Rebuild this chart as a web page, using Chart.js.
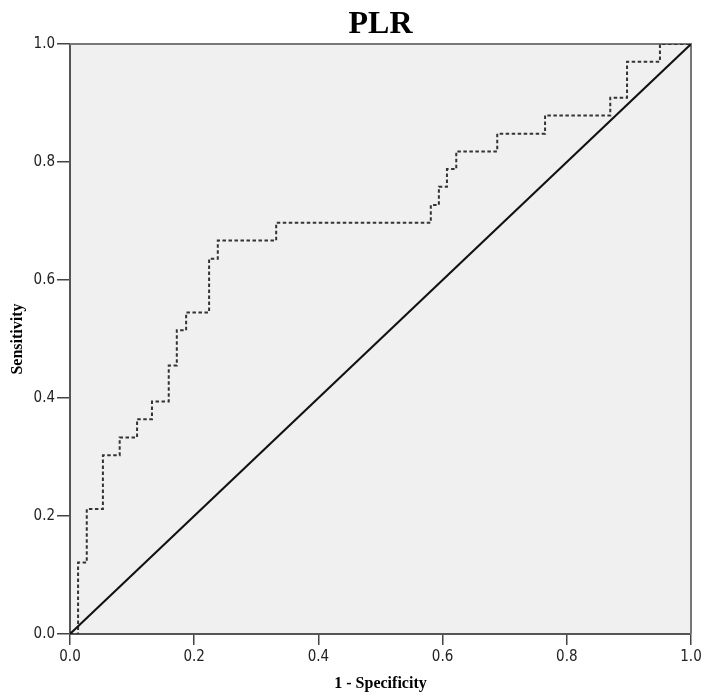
<!DOCTYPE html>
<html lang="en">
<head>
    <meta charset="UTF-8">
    <title>PLR ROC</title>
    <script src="https://cdn.jsdelivr.net/npm/chart.js"></script>
    <style>
        body {
            margin: 0;
            background: #ffffff;
        }
        #wrap {
            width: 706px;
            height: 698px;
        }
    </style>
</head>
<body>
    <div id="wrap">
        <canvas id="rocChart" width="706" height="698"></canvas>
    </div>

    <script>
    // ROC curve points (1 - specificity, sensitivity), corners of the step curve
    const fpr = [0, 0.013, 0.027, 0.053, 0.080, 0.108, 0.132, 0.159, 0.172, 0.187, 0.224, 0.238,
                 0.332, 0.581, 0.594, 0.607, 0.622, 0.688, 0.765, 0.870, 0.897, 0.950, 1.0];
    const sensitivity = [0, 0.121, 0.212, 0.303, 0.333, 0.364, 0.394, 0.455, 0.515, 0.545, 0.636, 0.667,
                         0.697, 0.727, 0.758, 0.788, 0.818, 0.848, 0.879, 0.909, 0.970, 1.0, 1.0];

    // reference diagonal
    const refX = [0, 1];
    const refY = [0, 1];

    const tickValues = [0, 0.2, 0.4, 0.6, 0.8, 1.0];
    const chartTitle = "PLR";

    const toPoints = (xs, ys) => xs.map((x, i) => ({ x: x, y: ys[i] }));

    // grey plot background, top/right frame and the title
    const framePlugin = {
        id: "frame",
        beforeDraw(chart) {
            const a = chart.chartArea;
            const ctx = chart.ctx;
            ctx.save();
            ctx.fillStyle = "#f0f0f0";
            ctx.fillRect(a.left, a.top, a.right - a.left, a.bottom - a.top);
            ctx.restore();
        },
        beforeDatasetsDraw(chart) {
            const a = chart.chartArea;
            const ctx = chart.ctx;
            ctx.save();
            ctx.strokeStyle = "#777";
            ctx.lineWidth = 2;
            ctx.beginPath();
            ctx.moveTo(a.left, a.top);
            ctx.lineTo(a.right, a.top);
            ctx.lineTo(a.right, a.bottom);
            ctx.stroke();
            ctx.restore();
        },
        afterDraw(chart) {
            const a = chart.chartArea;
            const ctx = chart.ctx;
            ctx.save();
            ctx.fillStyle = "#000";
            ctx.font = "bold 32px 'Liberation Serif', serif";
            ctx.textAlign = "center";
            ctx.textBaseline = "alphabetic";
            ctx.fillText(chartTitle, (a.left + a.right) / 2, 33);
            ctx.restore();
        }
    };

    const tickFont = { family: "'DejaVu Sans Condensed', 'DejaVu Sans', sans-serif", size: 15 };
    const titleFont = { family: "'Liberation Serif', serif", size: 16, weight: "bold" };

    const ctx = document.getElementById("rocChart").getContext("2d");
    new Chart(ctx, {
        type: "scatter",
        data: {
            datasets: [
                {
                    data: toPoints(refX, refY),
                    showLine: true,
                    borderColor: "#111",
                    borderWidth: 2,
                    pointRadius: 0
                },
                {
                    data: toPoints(fpr, sensitivity),
                    showLine: true,
                    stepped: "before",
                    borderColor: "#333",
                    borderWidth: 2,
                    borderDash: [3.5, 2.5],
                    pointRadius: 0
                }
            ]
        },
        plugins: [framePlugin],
        options: {
            responsive: false,
            animation: false,
            layout: { padding: { top: 44, right: 15, left: 0, bottom: 0 } },
            plugins: {
                legend: { display: false },
                tooltip: { enabled: false },
                title: { display: false }
            },
            scales: {
                x: {
                    type: "linear",
                    min: 0,
                    max: 1,
                    afterBuildTicks: s => { s.ticks = tickValues.map(v => ({ value: v })); },
                    afterFit: s => { s.height = 64; },
                    ticks: {
                        color: "#222",
                        font: tickFont,
                        padding: 3,
                        maxRotation: 0,
                        callback: v => v.toFixed(1)
                    },
                    grid: {
                        drawOnChartArea: false,
                        tickLength: 11,
                        color: "#444",
                        lineWidth: 1.5
                    },
                    border: { color: "#555", width: 2 },
                    title: {
                        display: true,
                        text: "1 - Specificity",
                        color: "#000",
                        font: titleFont,
                        padding: { top: 2, bottom: 5 }
                    }
                },
                y: {
                    type: "linear",
                    min: 0,
                    max: 1,
                    afterBuildTicks: s => { s.ticks = tickValues.map(v => ({ value: v })); },
                    afterFit: s => { s.width = 70; },
                    ticks: {
                        color: "#222",
                        font: tickFont,
                        padding: 2,
                        callback: v => v.toFixed(1)
                    },
                    grid: {
                        drawOnChartArea: false,
                        tickLength: 13,
                        color: "#444",
                        lineWidth: 1.5
                    },
                    border: { color: "#555", width: 2 },
                    title: {
                        display: true,
                        text: "Sensitivity",
                        color: "#000",
                        font: titleFont,
                        padding: { top: 8, bottom: 0 }
                    }
                }
            }
        }
    });
    </script>
</body>
</html>
